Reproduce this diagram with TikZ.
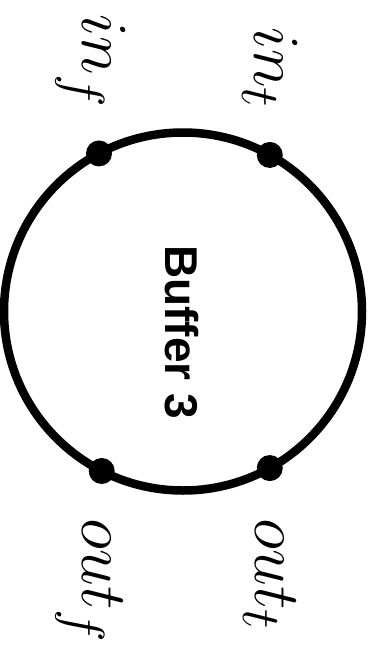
\RequirePackage{fix-cm}
\documentclass[tikz,border=0pt]{standalone}
\usepackage{fontspec}
\setsansfont{Liberation Sans}
\usetikzlibrary{calc}
\tikzset{
  bufcircle/.style={
    circle, draw=black, line width=8.5pt,
    minimum size=358pt, inner sep=0pt, outer sep=0pt
  },
  bufport/.style={circle, fill=black, minimum size=26pt, inner sep=0pt},
  buflabel/.style={rotate=-90, inner sep=0pt, scale=2.65, font=\Huge},
  bufname/.style={rotate=-90, inner sep=0pt, font=\sffamily\bfseries\fontsize{46}{55}\selectfont}
}
\begin{document}
\begin{tikzpicture}[x=1pt,y=-1pt]
  \useasboundingbox (0,0) rectangle (374,656);
  \node[bufcircle] (buf) at (183,311.5) {};
  \node[bufname] (bname) at (182,332) {Buffer 3};
  % ports on the rim
  \node[bufport] (inf) at (buf.118) {};
  \node[bufport] (int) at (buf.61) {};
  \node[bufport] (outf) at (buf.243) {};
  \node[bufport] (outt) at (buf.299) {};
  % port names
  \node[buflabel,anchor=base east] (inflab) at (82,109) {$in_f$};
  \node[buflabel,anchor=base east] (intlab) at (254,109) {$in_t$};
  \node[buflabel,anchor=base west] (outflab) at (82,518) {$out_f$};
  \node[buflabel,anchor=base west] (outtlab) at (255,518) {$out_t$};
\end{tikzpicture}
\end{document}
